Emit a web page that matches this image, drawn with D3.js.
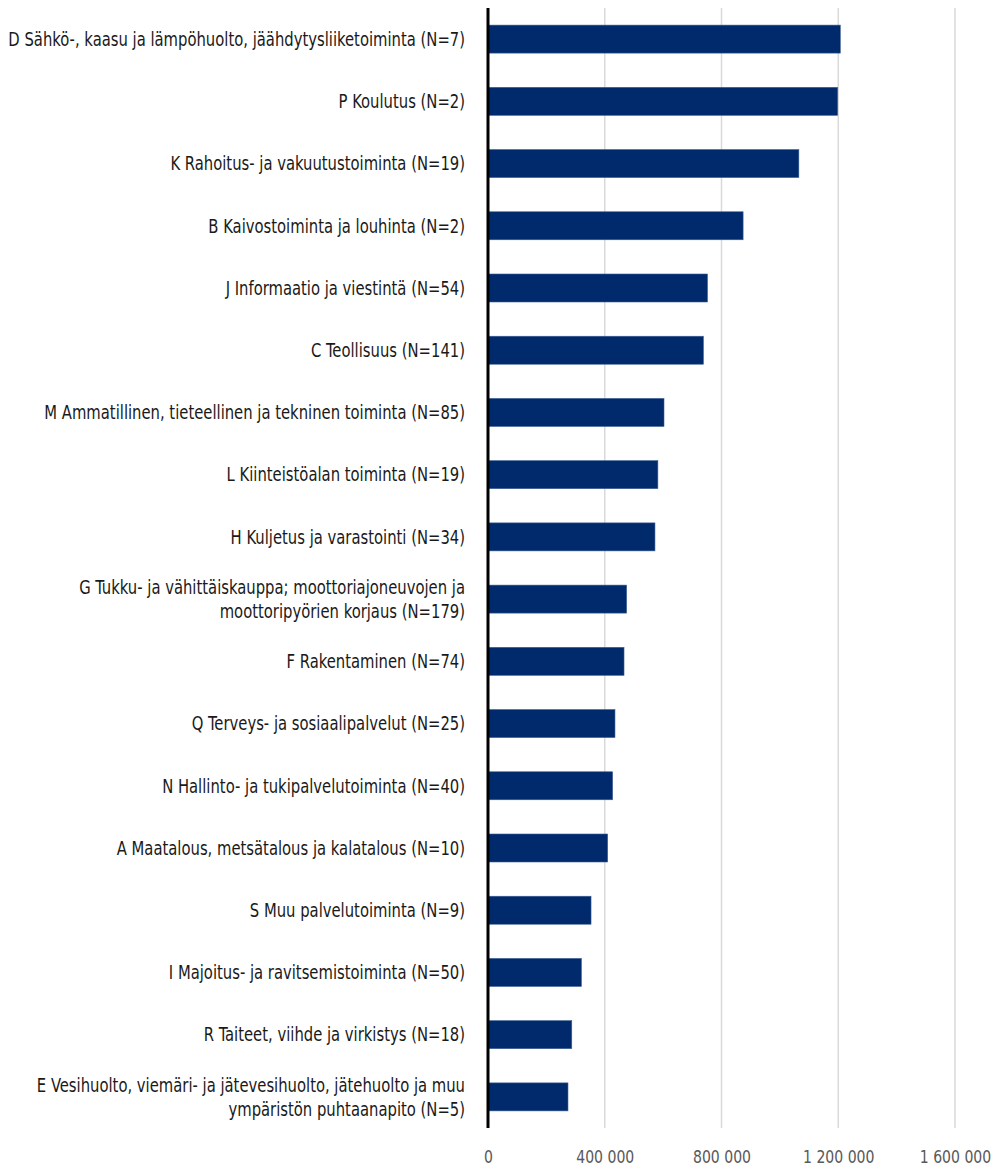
<!DOCTYPE html>
<html>
<head>
<meta charset="utf-8">
<script src="https://cdn.jsdelivr.net/npm/d3@7"></script>
<style>
  html, body { margin: 0; padding: 0; background: #fff; }
  svg { display: block; }
  .lbl { font-family: "Liberation Sans Narrow", "DejaVu Sans Condensed", "Noto Sans", sans-serif; fill: #1a1a1a; }
  .tick text { font-family: "Liberation Sans Narrow", "DejaVu Sans Condensed", "Noto Sans", sans-serif; fill: #595959; }
</style>
</head>
<body>
<svg id="chart" width="994" height="1169"></svg>
<script>
// Toimialat (label lines) in display order, top to bottom
const categories = [
  ["D Sähkö-, kaasu ja lämpöhuolto, jäähdytysliiketoiminta (N=7)"],
  ["P Koulutus (N=2)"],
  ["K Rahoitus- ja vakuutustoiminta (N=19)"],
  ["B Kaivostoiminta ja louhinta (N=2)"],
  ["J Informaatio ja viestintä (N=54)"],
  ["C Teollisuus (N=141)"],
  ["M Ammatillinen, tieteellinen ja tekninen toiminta (N=85)"],
  ["L Kiinteistöalan toiminta (N=19)"],
  ["H Kuljetus ja varastointi (N=34)"],
  ["G Tukku- ja vähittäiskauppa; moottoriajoneuvojen ja", "moottoripyörien korjaus (N=179)"],
  ["F Rakentaminen (N=74)"],
  ["Q Terveys- ja sosiaalipalvelut (N=25)"],
  ["N Hallinto- ja tukipalvelutoiminta (N=40)"],
  ["A Maatalous, metsätalous ja kalatalous (N=10)"],
  ["S Muu palvelutoiminta (N=9)"],
  ["I Majoitus- ja ravitsemistoiminta (N=50)"],
  ["R Taiteet, viihde ja virkistys (N=18)"],
  ["E Vesihuolto, viemäri- ja jätevesihuolto, jätehuolto ja muu", "ympäristön puhtaanapito (N=5)"]
];

const values = [
  1207000, 1198000, 1065000, 874000, 752000, 738000, 603000, 582000, 572000,
  475000, 466000, 435000, 427000, 410000, 353000, 320000, 287000, 274000
];

const tickValues = [0, 400000, 800000, 1200000, 1600000];

const svg = d3.select("#chart");

const x = d3.scaleLinear().domain([0, 1600000]).range([488, 955]);
const y = d3.scaleBand()
  .domain(d3.range(categories.length))
  .range([8, 1128])
  .paddingInner(0.55)
  .paddingOuter(0.275);

const fiLocale = d3.formatLocale({ decimal: ",", thousands: "\u00a0", grouping: [3], currency: ["", " €"] });
const fmt = fiLocale.format(",d");

// Vertical gridlines
svg.append("g")
  .selectAll("line")
  .data(tickValues.filter(d => d > 0))
  .join("line")
  .attr("x1", d => x(d)).attr("x2", d => x(d))
  .attr("y1", 8).attr("y2", 1128)
  .attr("stroke", "#d9d9d9").attr("stroke-width", 1.5);

// Bars
svg.append("g")
  .selectAll("rect")
  .data(values)
  .join("rect")
  .attr("x", x(0))
  .attr("y", (d, i) => y(i))
  .attr("width", d => x(d) - x(0))
  .attr("height", y.bandwidth())
  .attr("fill", "#002a6b")
  .attr("stroke", "#3d5f94")
  .attr("stroke-width", 0.6);

// Category labels (narrowed horizontally to a condensed look)
const labelX = 465;
const fontSize = 19.5;
const lineH = 24;
const labels = svg.append("g").attr("class", "lbl");
const texts = [];
categories.forEach((lines, i) => {
  const cy = y(i) + y.bandwidth() / 2;
  const t = labels.append("text")
    .attr("x", labelX)
    .attr("text-anchor", "end")
    .attr("font-size", fontSize);
  lines.forEach((ln, k) => {
    t.append("tspan")
      .attr("x", labelX)
      .attr("y", cy + (k - (lines.length - 1) / 2) * lineH)
      .attr("dy", "0.35em")
      .text(ln);
  });
  texts.push(t);
});
const widest = texts[0].node().getComputedTextLength();
const sx = Math.min(1, 457 / widest);
texts.forEach(t => t.attr("transform", `translate(${labelX},0) scale(${sx},1) translate(${-labelX},0)`));

// Category axis line at zero
svg.append("line")
  .attr("x1", x(0)).attr("x2", x(0))
  .attr("y1", 8).attr("y2", 1128)
  .attr("stroke", "#000").attr("stroke-width", 3);

// Value axis labels
const xAxis = d3.axisBottom(x)
  .tickValues(tickValues)
  .tickSize(0)
  .tickPadding(0)
  .tickFormat(fmt);
const gx = svg.append("g")
  .attr("transform", "translate(0,1150)")
  .call(xAxis);
gx.select(".domain").remove();
gx.selectAll(".tick text")
  .attr("font-size", 18.5)
  .attr("dy", "0.71em")
  .attr("transform", `scale(${sx},1)`);
</script>
</body>
</html>
